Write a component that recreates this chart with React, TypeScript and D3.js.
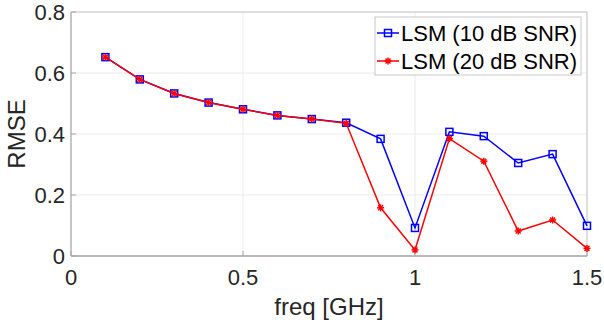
import React from "react";
import * as d3 from "d3";

const freqs = [0.1, 0.2, 0.3, 0.4, 0.5, 0.6, 0.7, 0.8, 0.9, 1.0, 1.1, 1.2, 1.3, 1.4, 1.5];
const lsm10 = [0.652, 0.579, 0.533, 0.503, 0.481, 0.461, 0.449, 0.437, 0.384, 0.092, 0.407, 0.393, 0.305, 0.334, 0.099];
const lsm20 = [0.652, 0.579, 0.533, 0.503, 0.481, 0.461, 0.449, 0.435, 0.158, 0.020, 0.385, 0.311, 0.082, 0.118, 0.025];
const xTicks = [0, 0.5, 1, 1.5];
const yTicks = [0, 0.2, 0.4, 0.6, 0.8];
const seriesNames = ["LSM (10 dB SNR)", "LSM (20 dB SNR)"];

const W = 604, H = 324;
const L = 71, R = 587, T = 12, B = 256;
const FONT = "'Liberation Sans', Arial, Helvetica, sans-serif";

function Star({ x, y, r, color }: { x: number; y: number; r: number; color: string }) {
  const segs = [0, 45, 90, 135].map((a) => {
    const rad = (a * Math.PI) / 180;
    const dx = Math.cos(rad) * r, dy = Math.sin(rad) * r;
    return <line key={a} x1={x - dx} y1={y - dy} x2={x + dx} y2={y + dy} stroke={color} strokeWidth={1.5} />;
  });
  return <g>{segs}</g>;
}

export default function App() {
  const x = d3.scaleLinear().domain([0, 1.5]).range([L, R]);
  const y = d3.scaleLinear().domain([0, 0.8]).range([B, T]);
  const line = d3.line<number>().x((_, i) => x(freqs[i])).y((d) => y(d));
  const fmt = (v: number) => (v === 0 ? "0" : String(v));
  const blue = "#0000ff", red = "#ff0000";
  const axisColor = "#a6a6a6";
  return (
    <svg width={W} height={H} style={{ position: "absolute", left: 0, top: 0, background: "#fff" }}>
      <rect x={0} y={0} width={W} height={H} fill="#fff" />
      {/* grid */}
      {xTicks.map((t) => (
        <line key={"gx" + t} x1={x(t)} x2={x(t)} y1={T} y2={B} stroke="#ebebeb" strokeWidth={1} />
      ))}
      {yTicks.map((t) => (
        <line key={"gy" + t} x1={L} x2={R} y1={y(t)} y2={y(t)} stroke="#ebebeb" strokeWidth={1} />
      ))}
      {/* box */}
      <line x1={L} x2={R} y1={T} y2={T} stroke="#c8c8c8" strokeWidth={1} />
      <line x1={R} x2={R} y1={T} y2={B} stroke="#c8c8c8" strokeWidth={1} />
      <line x1={L} x2={L} y1={T} y2={B} stroke={axisColor} strokeWidth={1.2} />
      <line x1={L} x2={R} y1={B} y2={B} stroke={axisColor} strokeWidth={1.5} />
      {/* ticks */}
      {xTicks.map((t) => (
        <g key={"tx" + t}>
          <line x1={x(t)} x2={x(t)} y1={B} y2={B - 5} stroke={axisColor} />
          <text x={x(t)} y={B + 29} textAnchor="middle" fontFamily={FONT} fontSize={22} fill="#262626">
            {fmt(t)}
          </text>
        </g>
      ))}
      {yTicks.map((t) => (
        <g key={"ty" + t}>
          <line x1={L} x2={L + 5} y1={y(t)} y2={y(t)} stroke={axisColor} />
          <text x={L - 6} y={y(t) + 7.5} textAnchor="end" fontFamily={FONT} fontSize={22} fill="#262626">
            {fmt(t)}
          </text>
        </g>
      ))}
      {/* labels */}
      <text x={(L + R) / 2} y={315} textAnchor="middle" fontFamily={FONT} fontSize={24} fill="#262626">
        freq [GHz]
      </text>
      <text transform={`translate(25,${(T + B) / 2}) rotate(-90)`} textAnchor="middle" fontFamily={FONT} fontSize={24} fill="#262626">
        RMSE
      </text>
      {/* series */}
      <path d={line(lsm10) || ""} fill="none" stroke={blue} strokeWidth={1.5} />
      {lsm10.map((v, i) => (
        <rect key={"b" + i} x={x(freqs[i]) - 3.5} y={y(v) - 3.5} width={7} height={7} fill="none" stroke={blue} strokeWidth={1.5} />
      ))}
      <path d={line(lsm20) || ""} fill="none" stroke={red} strokeWidth={1.5} />
      {lsm20.map((v, i) => (
        <Star key={"r" + i} x={x(freqs[i])} y={y(v)} r={3.5} color={red} />
      ))}
      {/* legend */}
      <rect x={375} y={17} width={206} height={58} fill="#fff" stroke="#c8c8c8" strokeWidth={1} />
      <line x1={377} x2={399} y1={33} y2={33} stroke={blue} strokeWidth={1.5} />
      <rect x={388 - 3.5} y={33 - 3.5} width={7} height={7} fill="none" stroke={blue} strokeWidth={1.5} />
      <text x={401} y={41} fontFamily={FONT} fontSize={22} fill="#000">{seriesNames[0]}</text>
      <line x1={377} x2={399} y1={61} y2={61} stroke={red} strokeWidth={1.5} />
      <Star x={388} y={61} r={3.5} color={red} />
      <text x={401} y={69} fontFamily={FONT} fontSize={22} fill="#000">{seriesNames[1]}</text>
    </svg>
  );
}
